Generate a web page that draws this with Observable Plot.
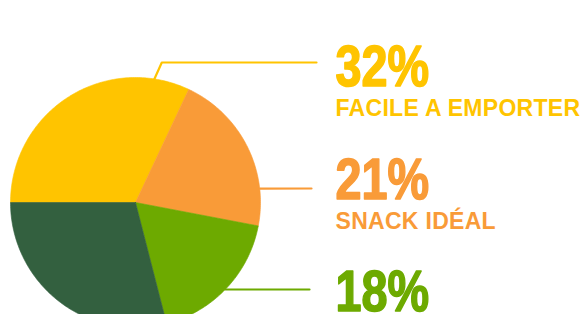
<!DOCTYPE html>
<html>
<head>
<meta charset="utf-8">
<script src="https://cdn.jsdelivr.net/npm/d3@7"></script>
<script src="https://cdn.jsdelivr.net/npm/@observablehq/plot@0.6"></script>
<style>
  html, body { margin: 0; padding: 0; background: #ffffff; }
  #chart svg { display: block; }
  .cat text { letter-spacing: 0.3px; }
</style>
</head>
<body>
<div id="chart"></div>
<script>
// ---- data ----
const categories = ["FACILE A EMPORTER", "SNACK IDÉAL", "", ""];
const shares = [32, 21, 18, 29];
const percentLabels = ["32%", "21%", "18%", ""];
const colors = ["#FFC400", "#F99B38", "#6DAA00", "#33603F"];

// ---- layout ----
const W = 582, H = 314;
const cx = 135, cy = 202, r = 125;
const leaderAngleDeg = [8.7, 83.6, 134.1];
const leaderY = [62, 188, 289];
const leaderEndX = [316, 311, 309];
const textX = 335;
const numberBaseline = [85, 198, 310];
const labelGap = 30;

const table = shares.map((v, i) => ({category: categories[i], share: v, pct: percentLabels[i], color: colors[i]}));

const arcs = d3.pie().value(d => d.share).sort(null)
  .startAngle(-Math.PI / 2).endAngle(3 * Math.PI / 2)(table);

const pt = a => [cx + r * Math.sin(a), cy - r * Math.cos(a)];

const slicePts = [];
arcs.forEach((a, k) => {
  const n = Math.max(8, Math.ceil((a.endAngle - a.startAngle) * 60));
  slicePts.push({k, x: cx, y: cy, color: a.data.color});
  for (let j = 0; j <= n; j++) {
    const t = a.startAngle + (a.endAngle - a.startAngle) * j / n;
    const [x, y] = pt(t);
    slicePts.push({k, x, y, color: a.data.color});
  }
  slicePts.push({k, x: cx, y: cy, color: a.data.color});
});

const leaderPts = [];
leaderY.forEach((ly, i) => {
  const [sx, sy] = pt(leaderAngleDeg[i] * Math.PI / 180);
  const color = colors[i];
  leaderPts.push({k: i, x: sx, y: sy, color});
  if (sy - ly > 1) leaderPts.push({k: i, x: sx + (sy - ly) * 0.45, y: ly, color});
  leaderPts.push({k: i, x: leaderEndX[i], y: ly, color});
});

const numText = table.slice(0, 3).map((d, i) => ({x: textX, y: numberBaseline[i], text: d.pct, color: d.color}));
const catText = table.slice(0, 3).filter(d => d.category).map((d, i) => ({x: textX, y: numberBaseline[i] + labelGap, text: d.category, color: d.color}));

const chart = Plot.plot({
  width: W,
  height: H,
  margin: 0,
  x: {domain: [0, W], range: [0, W], axis: null},
  y: {domain: [0, H], range: [0, H], axis: null},
  color: {type: "identity"},
  marks: [
    Plot.line(slicePts, {x: "x", y: "y", z: "k", fill: "color", stroke: "color", strokeWidth: 0.6, curve: "linear"}),
    Plot.line(leaderPts, {x: "x", y: "y", z: "k", stroke: "color", strokeWidth: 2.2}),
    Plot.text(numText, {x: "x", y: "y", text: "text", fill: "color", stroke: "color", strokeWidth: 1.6,
      textAnchor: "start", lineAnchor: "bottom", className: "pct",
      fontFamily: "'Liberation Sans', Arial, sans-serif", fontWeight: 700, fontSize: 57}),
    Plot.text(catText, {x: "x", y: "y", text: "text", fill: "color", textAnchor: "start", lineAnchor: "bottom",
      className: "cat",
      fontFamily: "'Liberation Sans', Arial, sans-serif", fontWeight: 700, fontSize: 23})
  ]
});
document.getElementById("chart").appendChild(chart);
// condense the big percentage figures horizontally
d3.select(chart).selectAll(".pct text").each(function() {
  const w = this.getComputedTextLength();
  this.setAttribute("textLength", (w * 0.82).toFixed(1));
  this.setAttribute("lengthAdjust", "spacingAndGlyphs");
});
</script>
</body>
</html>
